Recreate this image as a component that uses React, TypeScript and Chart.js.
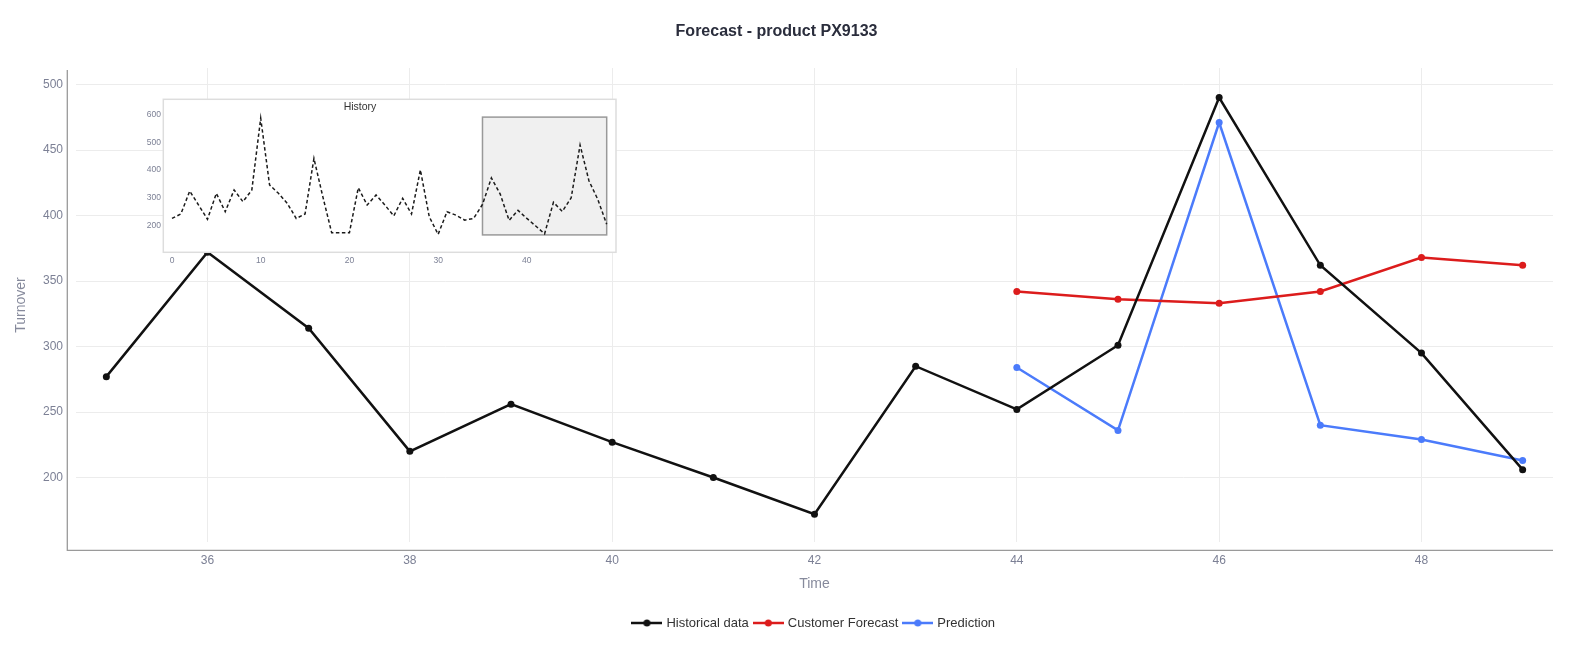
import React, { useEffect, useRef } from "react";
import { Chart, registerables } from "chart.js";

Chart.register(...registerables);

// ---------- data ----------
const TITLE = "Forecast - product PX9133";
const X_TITLE = "Time";
const Y_TITLE = "Turnover";
const INSET_TITLE = "History";

const histX = [35, 36, 37, 38, 39, 40, 41, 42, 43, 44, 45, 46, 47, 48, 49];
const histY = [277, 372, 314, 220, 256, 227, 200, 172, 285, 252, 301, 490, 362, 295, 206];

const fcX = [44, 45, 46, 47, 48, 49];
const fcY = [342, 336, 333, 342, 368, 362];

const predX = [44, 45, 46, 47, 48, 49];
const predY = [284, 236, 471, 240, 229, 213];

const xTicks = [36, 38, 40, 42, 44, 46, 48];
const yTicks = [200, 250, 300, 350, 400, 450, 500];
const xRange = [34.7, 49.3];
const yRange = [150.8, 512.6];

// history (inset): weeks 0..34, then the same values as the main historical series
const historyEarlyY = [
  227, 243, 325, 275, 224, 317, 251, 329, 287, 329,
  586, 347, 317, 281, 227, 243, 442, 305, 176, 176,
  176, 337, 275, 311, 275, 236, 299, 243, 401, 233,
  170, 251, 239, 221, 227,
];
const historyX = [
  0, 1, 2, 3, 4, 5, 6, 7, 8, 9, 10, 11, 12, 13, 14, 15, 16, 17, 18, 19,
  20, 21, 22, 23, 24, 25, 26, 27, 28, 29, 30, 31, 32, 33, 34,
  35, 36, 37, 38, 39, 40, 41, 42, 43, 44, 45, 46, 47, 48, 49,
];
const historyY = [...historyEarlyY, ...histY];
const insetXTicks = [0, 10, 20, 30, 40];
const insetYTicks = [200, 300, 400, 500, 600];
const insetXRange = [-0.98, 50.05];
const insetYRange = [105.7, 653.8];
const insetBoxX = [35, 49];
const insetBoxY = [168, 590];

// ---------- style ----------
const FONT = "'Liberation Sans', Arial, sans-serif";
const TICK_COLOR = "#7c8095";
const AXIS_TITLE_COLOR = "#868a9c";
const GRID_COLOR = "#ececec";
const AXIS_COLOR = "#9a9a9a";
const C_HIST = "#111111";
const C_FC = "#dc1c1c";
const C_PRED = "#4b7bfb";

const W = 1577;
const H = 650;

function legendIcon(color: string): HTMLCanvasElement {
  const c = document.createElement("canvas");
  c.width = 31;
  c.height = 12;
  const ctx = c.getContext("2d")!;
  ctx.strokeStyle = color;
  ctx.lineWidth = 2.5;
  ctx.beginPath();
  ctx.moveTo(0, 6);
  ctx.lineTo(31, 6);
  ctx.stroke();
  ctx.fillStyle = color;
  ctx.beginPath();
  ctx.arc(15.5, 6, 3.5, 0, Math.PI * 2);
  ctx.fill();
  return c;
}

const toPts = (xs: number[], ys: number[]) => xs.map((x, i) => ({ x, y: ys[i] }));

export default function App() {
  const mainRef = useRef<HTMLCanvasElement | null>(null);
  const insetRef = useRef<HTMLCanvasElement | null>(null);

  useEffect(() => {
    document.body.style.margin = "0";
    const icons = [legendIcon(C_HIST), legendIcon(C_FC), legendIcon(C_PRED)];

    const axisLines = {
      id: "axisLines",
      afterDraw(chart: any) {
        const { ctx, chartArea: ca } = chart;
        ctx.save();
        ctx.strokeStyle = AXIS_COLOR;
        ctx.lineWidth = 1.3;
        ctx.beginPath();
        ctx.moveTo(ca.left - 8.7, ca.top + 2);
        ctx.lineTo(ca.left - 8.7, ca.bottom + 8.3);
        ctx.lineTo(ca.right, ca.bottom + 8.3);
        ctx.stroke();
        ctx.restore();
      },
    };

    const mkDs = (label: string, xs: number[], ys: number[], color: string) => ({
      label,
      data: toPts(xs, ys),
      borderColor: color,
      backgroundColor: color,
      borderWidth: 2.5,
      pointRadius: 3.5,
      pointBorderWidth: 0,
      pointBackgroundColor: color,
      pointStyle: "circle",
      tension: 0,
    });

    const main = new Chart(mainRef.current!, {
      type: "line",
      data: {
        datasets: [
          mkDs("Historical data", histX, histY, C_HIST),
          mkDs("Customer Forecast", fcX, fcY, C_FC),
          mkDs("Prediction", predX, predY, C_PRED),
        ] as any,
      },
      options: {
        animation: false,
        responsive: false,
        devicePixelRatio: 1,
        layout: { padding: { left: 0, right: 24, top: 0, bottom: 10.5 } },
        plugins: {
          title: {
            display: true,
            text: TITLE,
            color: "#2a2d3c",
            font: { family: FONT, size: 16, weight: "bold" },
            padding: { top: 22.4, bottom: 26.4 },
          },
          legend: {
            position: "bottom",
            fullSize: false,
            labels: {
              usePointStyle: true,
              pointStyleWidth: 26,
              padding: 6.5,
              color: "#333",
              font: { family: FONT, size: 13 },
              generateLabels: (chart: any) =>
                chart.data.datasets.map((ds: any, i: number) => ({
                  text: ds.label,
                  fillStyle: ds.borderColor,
                  strokeStyle: ds.borderColor,
                  lineWidth: 0,
                  pointStyle: icons[i],
                  datasetIndex: i,
                  hidden: false,
                  fontColor: "#333",
                })),
            },
          },
          tooltip: { enabled: false },
        },
        scales: {
          x: {
            type: "linear",
            min: xRange[0],
            max: xRange[1],
            afterBuildTicks: (s: any) => {
              s.ticks = xTicks.map((v) => ({ value: v }));
            },
            afterFit: (s: any) => {
              s.height = 68;
            },
            grid: { color: GRID_COLOR, lineWidth: 1, drawTicks: false },
            border: { display: false },
            ticks: {
              padding: 11.8,
              color: TICK_COLOR,
              font: { family: FONT, size: 12 },
              maxRotation: 0,
            },
            title: {
              display: true,
              text: X_TITLE,
              color: AXIS_TITLE_COLOR,
              font: { family: FONT, size: 14 },
              padding: { top: 0, bottom: 17 },
            },
          },
          y: {
            type: "linear",
            min: yRange[0],
            max: yRange[1],
            afterBuildTicks: (s: any) => {
              s.ticks = yTicks.map((v) => ({ value: v }));
            },
            afterFit: (s: any) => {
              s.width = 76;
            },
            grid: { color: GRID_COLOR, lineWidth: 1, drawTicks: false },
            border: { display: false },
            ticks: {
              padding: 13,
              color: TICK_COLOR,
              font: { family: FONT, size: 12 },
            },
            title: {
              display: true,
              text: Y_TITLE,
              color: AXIS_TITLE_COLOR,
              font: { family: FONT, size: 14 },
              padding: { top: 12.6, bottom: 0 },
            },
          },
        },
      },
      plugins: [axisLines],
    });

    // ----- inset -----
    const insetDecor = {
      id: "insetDecor",
      beforeDraw(chart: any) {
        const { ctx, chartArea: ca } = chart;
        ctx.save();
        ctx.fillStyle = "#ffffff";
        ctx.fillRect(ca.left, ca.top, ca.right - ca.left, ca.bottom - ca.top);
        ctx.restore();
      },
      beforeDatasetsDraw(chart: any) {
        const { ctx } = chart;
        const xs = chart.scales.x;
        const ys = chart.scales.y;
        const x0 = xs.getPixelForValue(insetBoxX[0]);
        const x1 = xs.getPixelForValue(insetBoxX[1]);
        const y0 = ys.getPixelForValue(insetBoxY[1]);
        const y1 = ys.getPixelForValue(insetBoxY[0]);
        ctx.save();
        ctx.fillStyle = "#f0f0f0";
        ctx.fillRect(x0, y0, x1 - x0, y1 - y0);
        ctx.strokeStyle = "#999999";
        ctx.lineWidth = 1.5;
        ctx.strokeRect(x0, y0, x1 - x0, y1 - y0);
        ctx.restore();
      },
      afterDraw(chart: any) {
        const { ctx, chartArea: ca } = chart;
        ctx.save();
        ctx.strokeStyle = "#dddddd";
        ctx.lineWidth = 1.5;
        ctx.strokeRect(ca.left, ca.top, ca.right - ca.left, ca.bottom - ca.top);
        ctx.fillStyle = "#333333";
        ctx.font = `10.5px ${FONT}`;
        ctx.textAlign = "center";
        ctx.textBaseline = "middle";
        ctx.fillText(INSET_TITLE, 230, 18.7);
        ctx.restore();
      },
    };

    const inset = new Chart(insetRef.current!, {
      type: "line",
      data: {
        datasets: [
          {
            label: INSET_TITLE,
            data: toPts(historyX, historyY),
            borderColor: "#1a1a1a",
            borderWidth: 1.5,
            borderDash: [3.5, 2.5],
            pointRadius: 0,
            tension: 0,
          },
        ] as any,
      },
      options: {
        animation: false,
        responsive: false,
        devicePixelRatio: 1,
        layout: { padding: { left: 0, right: 14, top: 11.3, bottom: 0 } },
        plugins: {
          legend: { display: false },
          title: { display: false },
          tooltip: { enabled: false },
        },
        scales: {
          x: {
            type: "linear",
            min: insetXRange[0],
            max: insetXRange[1],
            afterBuildTicks: (s: any) => {
              s.ticks = insetXTicks.map((v) => ({ value: v }));
            },
            afterFit: (s: any) => {
              s.height = 20.7;
            },
            grid: { display: false, drawTicks: false },
            border: { display: false },
            ticks: { padding: 3.6, color: TICK_COLOR, font: { family: FONT, size: 8.5 }, maxRotation: 0 },
          },
          y: {
            type: "linear",
            min: insetYRange[0],
            max: insetYRange[1],
            afterBuildTicks: (s: any) => {
              s.ticks = insetYTicks.map((v) => ({ value: v }));
            },
            afterFit: (s: any) => {
              s.width = 33.3;
            },
            grid: { display: false, drawTicks: false },
            border: { display: false },
            ticks: { padding: 2.3, color: TICK_COLOR, font: { family: FONT, size: 8.5 } },
          },
        },
      },
      plugins: [insetDecor],
    });

    return () => {
      main.destroy();
      inset.destroy();
    };
  }, []);

  return (
    <div style={{ position: "relative", width: W, height: H, background: "#fff", overflow: "hidden" }}>
      <canvas ref={mainRef} width={W} height={H} style={{ position: "absolute", left: 0, top: 0, width: W, height: H }} />
      <canvas ref={insetRef} width={500} height={185} style={{ position: "absolute", left: 130, top: 88, width: 500, height: 185 }} />
    </div>
  );
}
